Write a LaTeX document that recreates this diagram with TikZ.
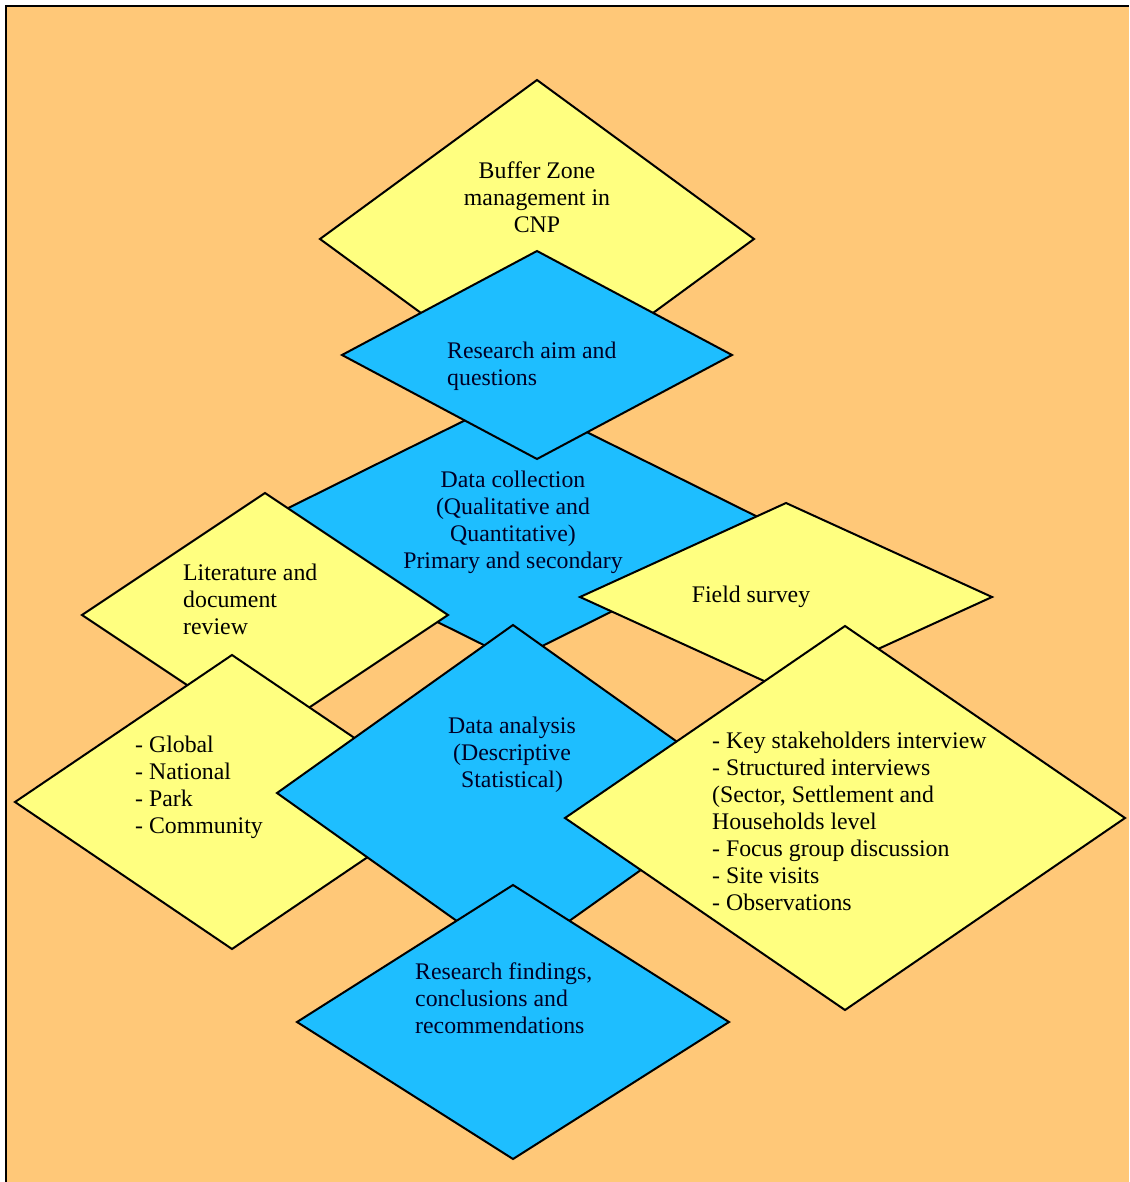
\documentclass[tikz,border=0pt]{standalone}
\usepackage{fontspec}
\setmainfont{Liberation Serif}
\definecolor{bgorange}{RGB}{255,200,120}
\definecolor{dyellow}{RGB}{255,255,128}
\definecolor{dblue}{RGB}{30,190,255}
\begin{document}
\begin{tikzpicture}[x=1pt,y=-1pt,
  dia/.style={draw=black,line width=2pt,line join=miter},
  ytxt/.style={inner sep=0pt,font=\fontsize{23.8}{27}\selectfont,text=black},
  btxt/.style={inner sep=0pt,font=\fontsize{23.8}{27}\selectfont,text=black!85!blue}]
\useasboundingbox (0,0) rectangle (1129,1182);
\fill[white] (0,0) rectangle (1129,1182);
\fill[bgorange] (6,6) rectangle (1129,1182);
\draw[line width=2pt] (6,1182) -- (6,6) -- (1129,6);
% diamonds: \mydiam{name}{cx}{cy}{hw}{hh}{colour}
\newcommand{\mydiam}[6]{%
  \path[dia,fill=#6] (#2,#3-#5) -- (#2+#4,#3) -- (#2,#3+#5) -- (#2-#4,#3) -- cycle;
  \coordinate (#1) at (#2,#3);}
\mydiam{buffer}{537}{239}{217}{159}{dyellow}
\mydiam{collect}{514}{528}{266}{132}{dblue}
\mydiam{aim}{537}{355}{195}{104}{dblue}
\mydiam{lit}{265}{615}{183}{122}{dyellow}
\mydiam{levels}{232}{802}{217}{147}{dyellow}
\mydiam{field}{786}{597}{206}{94}{dyellow}
\mydiam{analysis}{513}{793}{236}{168}{dblue}
\mydiam{methods}{845}{818}{280}{192}{dyellow}
\mydiam{findings}{513}{1022}{216}{137}{dblue}
% texts
\node[ytxt,align=center] (tbuffer) at (537,197) {Buffer Zone\\management in\\CNP};
\node[btxt,align=left,anchor=west] (taim) at (447,366) {Research aim and\\questions};
\node[btxt,align=center] (tcollect) at (513,522) {Data collection\\(Qualitative and\\Quantitative)\\Primary and secondary};
\node[ytxt,align=left,anchor=west] (tlit) at (183,599) {Literature and\\document\\review};
\node[ytxt,align=left,anchor=west] (tlevels) at (135,787) {- Global\\- National\\- Park\\- Community};
\node[btxt,align=center] (tanalysis) at (512,755) {Data analysis\\(Descriptive\\Statistical)};
\node[ytxt] (tfield) at (751,597) {Field survey};
\node[ytxt,align=left,anchor=west] (tmethods) at (712,821) {- Key stakeholders interview\\- Structured interviews\\(Sector, Settlement and\\Households level\\- Focus group discussion\\- Site visits\\- Observations};
\node[btxt,align=left,anchor=west] (tfindings) at (415,998) {Research findings,\\conclusions and\\recommendations};
\end{tikzpicture}
\end{document}
